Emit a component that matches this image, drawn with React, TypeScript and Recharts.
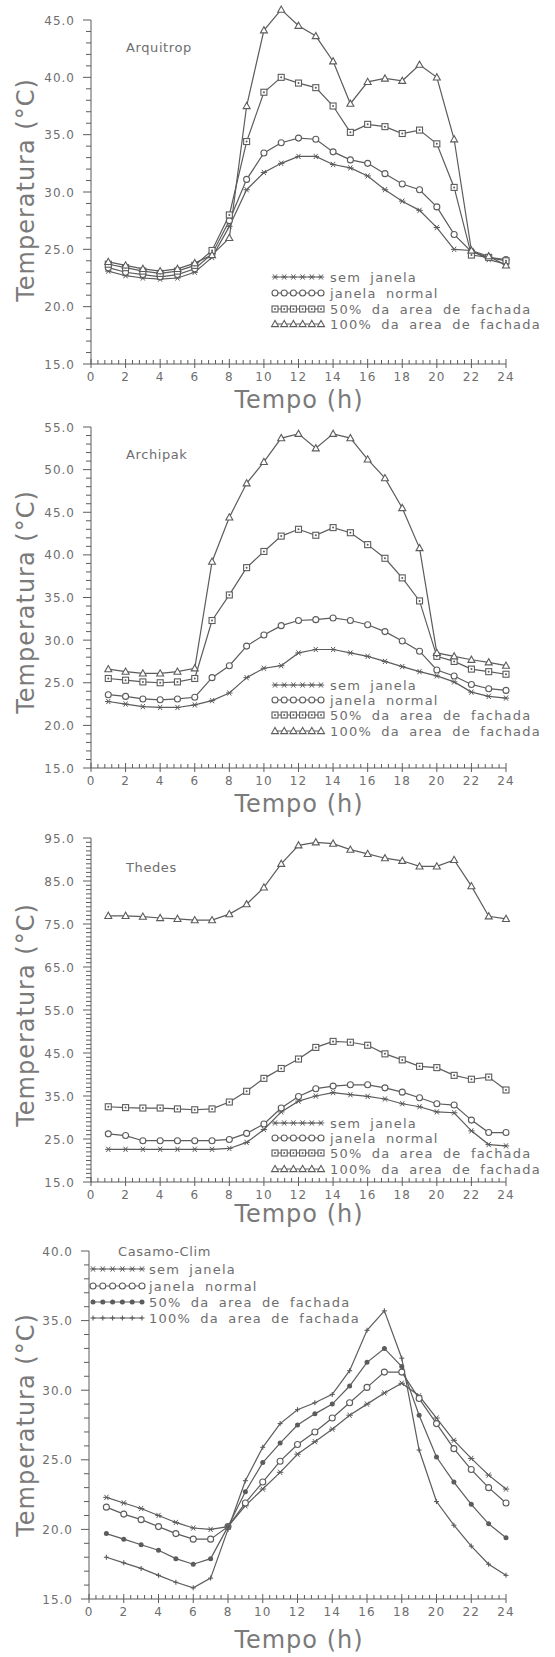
import React from "react";
import { LineChart, Line, XAxis, YAxis, ReferenceLine } from "recharts";

// ---------- data ----------
const HOURS = [1, 2, 3, 4, 5, 6, 7, 8, 9, 10, 11, 12, 13, 14, 15, 16, 17, 18, 19, 20, 21, 22, 23, 24];

const LEGEND_LABELS = ["sem janela", "janela normal", "50% da area de fachada", "100% da area de fachada"];
const PANEL_TITLES = ["Arquitrop", "Archipak", "Thedes", "Casamo-Clim"];
const X_TITLE = "Tempo (h)";
const Y_TITLE = "Temperatura (°C)";

// Arquitrop
const ARQ_SEM = [23.1, 22.7, 22.5, 22.4, 22.5, 23.0, 24.3, 27.0, 30.2, 31.7, 32.5, 33.1, 33.1, 32.4, 32.1, 31.4, 30.2, 29.2, 28.4, 26.9, 25.0, 24.9, 24.1, 23.7];
const ARQ_NORMAL = [23.4, 23.0, 22.8, 22.6, 22.8, 23.3, 24.6, 27.5, 31.1, 33.4, 34.3, 34.7, 34.6, 33.5, 32.8, 32.5, 31.6, 30.7, 30.2, 28.7, 26.3, 24.8, 24.3, 24.1];
const ARQ_50 = [23.7, 23.4, 23.1, 22.9, 23.1, 23.6, 24.9, 28.0, 34.4, 38.7, 40.0, 39.5, 39.1, 37.5, 35.2, 35.9, 35.7, 35.1, 35.4, 34.2, 30.4, 24.5, 24.3, 24.0];
const ARQ_100 = [23.9, 23.6, 23.3, 23.1, 23.3, 23.8, 24.5, 26.0, 37.5, 44.1, 45.9, 44.5, 43.6, 41.4, 37.7, 39.6, 39.9, 39.7, 41.1, 40.0, 34.6, 24.9, 24.4, 23.6];

// Archipak
const ARC_SEM = [22.8, 22.5, 22.2, 22.1, 22.1, 22.4, 22.9, 23.8, 25.6, 26.7, 27.0, 28.5, 28.9, 28.9, 28.5, 28.1, 27.5, 26.9, 26.3, 25.8, 25.1, 23.9, 23.4, 23.2];
const ARC_NORMAL = [23.6, 23.4, 23.1, 23.0, 23.1, 23.3, 25.6, 27.0, 29.3, 30.6, 31.7, 32.3, 32.4, 32.6, 32.3, 31.8, 31.0, 29.9, 28.7, 26.5, 25.8, 24.8, 24.3, 24.1];
const ARC_50 = [25.5, 25.3, 25.1, 25.0, 25.1, 25.5, 32.3, 35.3, 38.5, 40.4, 42.2, 43.0, 42.3, 43.2, 42.6, 41.2, 39.6, 37.3, 34.6, 28.1, 27.5, 26.6, 26.3, 26.0];
const ARC_100 = [26.6, 26.3, 26.1, 26.1, 26.3, 26.7, 39.2, 44.4, 48.4, 50.9, 53.7, 54.2, 52.5, 54.2, 53.7, 51.2, 49.0, 45.5, 40.8, 28.5, 28.1, 27.7, 27.4, 27.0];

// Thedes
const THE_SEM = [22.6, 22.6, 22.6, 22.6, 22.6, 22.6, 22.6, 22.8, 24.2, 27.2, 31.3, 33.8, 35.0, 35.8, 35.3, 34.9, 34.3, 33.2, 32.5, 31.3, 31.1, 26.9, 23.7, 23.4];
const THE_NORMAL = [26.2, 25.8, 24.6, 24.6, 24.6, 24.6, 24.6, 24.9, 26.3, 28.5, 32.2, 34.9, 36.7, 37.3, 37.6, 37.6, 36.9, 35.9, 34.6, 33.2, 32.9, 29.4, 26.5, 26.5];
const THE_50 = [32.5, 32.3, 32.2, 32.2, 32.0, 31.8, 32.0, 33.6, 36.1, 39.1, 41.4, 43.6, 46.3, 47.7, 47.5, 46.8, 44.8, 43.4, 41.9, 41.6, 39.8, 38.9, 39.4, 36.4];
const THE_100 = [76.9, 76.9, 76.7, 76.4, 76.2, 75.9, 75.9, 77.3, 79.6, 83.5, 89.0, 93.3, 94.0, 93.7, 92.3, 91.3, 90.3, 89.7, 88.4, 88.4, 89.9, 83.8, 76.8, 76.2];

// Casamo-Clim
const CAS_SEM = [22.3, 21.9, 21.5, 21.0, 20.5, 20.1, 20.0, 20.2, 21.7, 22.9, 24.1, 25.4, 26.3, 27.2, 28.2, 29.0, 29.8, 30.5, 29.6, 28.0, 26.4, 25.1, 23.9, 22.9];
const CAS_NORMAL = [21.6, 21.1, 20.7, 20.2, 19.7, 19.3, 19.3, 20.2, 21.9, 23.4, 24.9, 26.1, 27.0, 28.0, 29.1, 30.2, 31.3, 31.3, 29.4, 27.6, 25.8, 24.3, 23.0, 21.9];
const CAS_50 = [19.7, 19.3, 18.9, 18.5, 17.9, 17.5, 17.9, 20.2, 22.7, 24.8, 26.2, 27.5, 28.3, 29.0, 30.3, 32.0, 33.0, 31.7, 28.2, 25.2, 23.4, 21.8, 20.4, 19.4];
const CAS_100 = [18.0, 17.6, 17.2, 16.7, 16.2, 15.8, 16.5, 20.0, 23.5, 25.9, 27.6, 28.6, 29.1, 29.7, 31.4, 34.3, 35.7, 32.3, 25.7, 22.0, 20.3, 18.8, 17.5, 16.7];

// x tick positions (major every 2 h, minor ticks between)
const X_TICKS = [0, 0.4, 0.8, 1.2, 1.6, 2, 2.4, 2.8, 3.2, 3.6, 4, 4.4, 4.8, 5.2, 5.6, 6, 6.4, 6.8, 7.2, 7.6, 8, 8.4, 8.8, 9.2, 9.6, 10, 10.4, 10.8, 11.2, 11.6, 12, 12.4, 12.8, 13.2, 13.6, 14, 14.4, 14.8, 15.2, 15.6, 16, 16.4, 16.8, 17.2, 17.6, 18, 18.4, 18.8, 19.2, 19.6, 20, 20.4, 20.8, 21.2, 21.6, 22, 22.4, 22.8, 23.2, 23.6, 24];

// ---------- style ----------
const INK = "#5c5c5c";
const TXT = "#6e6e6e";
const TITLE_TXT = "#7a7a7a";
const FONT = "'DejaVu Sans', 'Liberation Sans', sans-serif";

type MP = { cx?: number; cy?: number };
const Star = ({ cx = 0, cy = 0 }: MP) => (
  <g stroke={INK} strokeWidth={1}>
    <line x1={cx - 3.2} x2={cx + 3.2} y1={cy} y2={cy} />
    <line x1={cx - 2} x2={cx + 2} y1={cy - 2.6} y2={cy + 2.6} />
    <line x1={cx - 2} x2={cx + 2} y1={cy + 2.6} y2={cy - 2.6} />
  </g>
);
const Circ = ({ cx = 0, cy = 0 }: MP) => <circle cx={cx} cy={cy} r={3} fill="#fff" stroke={INK} strokeWidth={1.1} />;
const Sq = ({ cx = 0, cy = 0 }: MP) => (
  <g>
    <rect x={cx - 3} y={cy - 3} width={6} height={6} fill="#fff" stroke={INK} strokeWidth={1.1} />
    <circle cx={cx} cy={cy} r={1} fill={INK} />
  </g>
);
const Tri = ({ cx = 0, cy = 0 }: MP) => (
  <polygon points={`${cx},${cy - 3.6} ${cx - 3.5},${cy + 2.6} ${cx + 3.5},${cy + 2.6}`} fill="#fff" stroke={INK} strokeWidth={1.1} />
);
const Dot = ({ cx = 0, cy = 0 }: MP) => <circle cx={cx} cy={cy} r={2.5} fill={INK} />;
const Plus = ({ cx = 0, cy = 0 }: MP) => (
  <g stroke={INK} strokeWidth={1.1}>
    <line x1={cx - 2.5} x2={cx + 2.5} y1={cy} y2={cy} />
    <line x1={cx} x2={cx} y1={cy - 2.5} y2={cy + 2.5} />
  </g>
);

const buildRows = (a: number[], b: number[], c: number[], d: number[]) =>
  HOURS.map((h, i) => ({ h, sem: a[i], normal: b[i], p50: c[i], p100: d[i] }));

type PanelCfg = {
  title: string;
  rows: any[];
  top: number;
  height: number;
  left: number;
  plotTop: number;
  plotBottom: number;
  yMin: number;
  yMax: number;
  yDomainMax: number;
  yMajor: number;
  markers: any[];
  titlePos: [number, number];
  legendX: [number, number, number];
  legendY: number[];
  xTitleY: number;
  yTitleY: number;
};

const range = (a: number, b: number, s: number) => {
  const out: number[] = [];
  for (let v = a; v <= b + 1e-9; v += s) out.push(Math.round(v * 10) / 10);
  return out;
};

const PANELS: PanelCfg[] = [
  {
    title: PANEL_TITLES[0], rows: buildRows(ARQ_SEM, ARQ_NORMAL, ARQ_50, ARQ_100),
    top: 0, height: 420, left: 91, plotTop: 20, plotBottom: 364,
    yMin: 15, yMax: 45, yDomainMax: 46.2, yMajor: 5, markers: [Star, Circ, Sq, Tri],
    titlePos: [126, 52], legendX: [275, 321, 330], legendY: [277, 293, 309, 324], xTitleY: 408, yTitleY: 190,
  },
  {
    title: PANEL_TITLES[1], rows: buildRows(ARC_SEM, ARC_NORMAL, ARC_50, ARC_100),
    top: 410, height: 410, left: 91, plotTop: 427, plotBottom: 768,
    yMin: 15, yMax: 55, yDomainMax: 55, yMajor: 5, markers: [Star, Circ, Sq, Tri],
    titlePos: [126, 459], legendX: [275, 321, 330], legendY: [685, 700, 715, 731], xTitleY: 812, yTitleY: 602,
  },
  {
    title: PANEL_TITLES[2], rows: buildRows(THE_SEM, THE_NORMAL, THE_50, THE_100),
    top: 820, height: 410, left: 91, plotTop: 838, plotBottom: 1182,
    yMin: 15, yMax: 95, yDomainMax: 95, yMajor: 10, markers: [Star, Circ, Sq, Tri],
    titlePos: [126, 872], legendX: [275, 321, 330], legendY: [1123, 1138, 1153, 1169], xTitleY: 1222, yTitleY: 1015,
  },
  {
    title: PANEL_TITLES[3], rows: buildRows(CAS_SEM, CAS_NORMAL, CAS_50, CAS_100),
    top: 1230, height: 427, left: 89, plotTop: 1251, plotBottom: 1599,
    yMin: 15, yMax: 40, yDomainMax: 40, yMajor: 5, markers: [Star, Circ, Dot, Plus],
    titlePos: [118, 1256], legendX: [93, 142, 149], legendY: [1269, 1286, 1302, 1318], xTitleY: 1648, yTitleY: 1425,
  },
];

const RIGHT = 506;
const Y_AXIS_W = 40;
const X_AXIS_H = 30;

const makeYTick = (major: number, base: number) => (props: any) => {
  const { x, y, payload } = props;
  const v = Math.round(payload.value * 10) / 10;
  const q = (v - base) / major;
  const isMajor = Math.abs(q - Math.round(q)) < 1e-6;
  return (
    <g>
      <line x1={x - (isMajor ? 8 : 5)} x2={x} y1={y} y2={y} stroke={INK} strokeWidth={1} />
      {isMajor && (
        <text x={x - 16} y={y + 4.5} textAnchor="end" fontSize={12} letterSpacing={1} fill={TXT} fontFamily={FONT}>
          {v.toFixed(1)}
        </text>
      )}
    </g>
  );
};

const XTick = (props: any) => {
  const { x, y, payload } = props;
  const v = Math.round(payload.value * 10) / 10;
  const isMajor = Math.abs(v / 2 - Math.round(v / 2)) < 1e-6;
  return (
    <g>
      <line x1={x} x2={x} y1={isMajor ? y - 5 : y - 4} y2={isMajor ? y + 4 : y} stroke={INK} strokeWidth={1} />
      {isMajor && (
        <text x={x} y={y + 17} textAnchor="middle" fontSize={12} letterSpacing={1} fill={TXT} fontFamily={FONT}>
          {v}
        </text>
      )}
    </g>
  );
};

const KEYS = ["sem", "normal", "p50", "p100"];

function Panel({ cfg }: { cfg: PanelCfg }) {
  const unit = (cfg.plotBottom - cfg.plotTop) / (cfg.yMax - cfg.yMin);
  const plotTopPx = cfg.plotTop - (cfg.yDomainMax - cfg.yMax) * unit;
  const marginTop = plotTopPx - cfg.top;
  const marginBottom = cfg.height - (cfg.plotBottom - cfg.top) - X_AXIS_H;
  const yTicks = range(cfg.yMin, cfg.yMax, 1);
  const YTick = makeYTick(cfg.yMajor, cfg.yMin);
  return (
    <div style={{ position: "absolute", left: 0, top: cfg.top }}>
      <LineChart
        width={555}
        height={cfg.height}
        data={cfg.rows}
        margin={{ top: marginTop, right: 555 - RIGHT, bottom: marginBottom, left: cfg.left - Y_AXIS_W }}
      >
        <XAxis
          dataKey="h"
          type="number"
          domain={[0, 24]}
          ticks={X_TICKS}
          interval={0}
          tickSize={0}
          tickMargin={0}
          tickLine={false}
          tick={XTick}
          height={X_AXIS_H}
          axisLine={{ stroke: INK, strokeWidth: 1 }}
        />
        <YAxis
          type="number"
          domain={[cfg.yMin, cfg.yDomainMax]}
          ticks={yTicks}
          interval={0}
          tickSize={0}
          tickMargin={0}
          tickLine={false}
          tick={YTick}
          width={Y_AXIS_W}
          axisLine={false}
        />
        <ReferenceLine
          segment={[{ x: 0, y: cfg.yMin }, { x: 0, y: cfg.yMax }]}
          stroke={INK}
          strokeWidth={1}
          ifOverflow="visible"
        />
        {KEYS.map((k, i) => {
          const M = cfg.markers[i];
          return (
            <Line
              key={k}
              dataKey={k}
              stroke={INK}
              strokeWidth={1.2}
              isAnimationActive={false}
              dot={(p: any) => <M key={`${k}-${p.index}`} cx={p.cx} cy={p.cy} />}
              activeDot={false}
            />
          );
        })}
      </LineChart>
    </div>
  );
}

function Overlay() {
  return (
    <svg width={555} height={1657} style={{ position: "absolute", left: 0, top: 0, pointerEvents: "none" }}>
      {PANELS.map((cfg, pi) => {
        const [lx0, lx1, tx] = cfg.legendX;
        return (
          <g key={pi} fontFamily={FONT}>
            <text x={cfg.titlePos[0]} y={cfg.titlePos[1]} fontSize={13} letterSpacing={0.6} fill={TXT}>
              {cfg.title}
            </text>
            {LEGEND_LABELS.map((lab, li) => {
              const y = cfg.legendY[li];
              const M = cfg.markers[li];
              const pts = [0, 1, 2, 3, 4, 5].map((j) => lx0 + ((lx1 - lx0) * j) / 5);
              return (
                <g key={li}>
                  <line x1={lx0} x2={lx1} y1={y} y2={y} stroke={INK} strokeWidth={1.2} />
                  {pts.map((px, j) => (
                    <M key={j} cx={px} cy={y} />
                  ))}
                  <text x={tx} y={y + 5} fontSize={13} letterSpacing={1.2} wordSpacing={4} fill={TXT}>
                    {lab}
                  </text>
                </g>
              );
            })}
            <text x={299} y={cfg.xTitleY} textAnchor="middle" fontSize={24} letterSpacing={1} fill={TITLE_TXT}>
              {X_TITLE}
            </text>
            <text
              x={34}
              y={cfg.yTitleY}
              textAnchor="middle"
              fontSize={24}
              letterSpacing={1}
              fill={TITLE_TXT}
              transform={`rotate(-90, 34, ${cfg.yTitleY})`}
            >
              {Y_TITLE}
            </text>
          </g>
        );
      })}
    </svg>
  );
}

export default function App() {
  return (
    <div style={{ position: "absolute", left: 0, top: 0, width: 555, height: 1657, background: "#fff" }}>
      {PANELS.map((cfg, i) => (
        <Panel key={i} cfg={cfg} />
      ))}
      <Overlay />
    </div>
  );
}
